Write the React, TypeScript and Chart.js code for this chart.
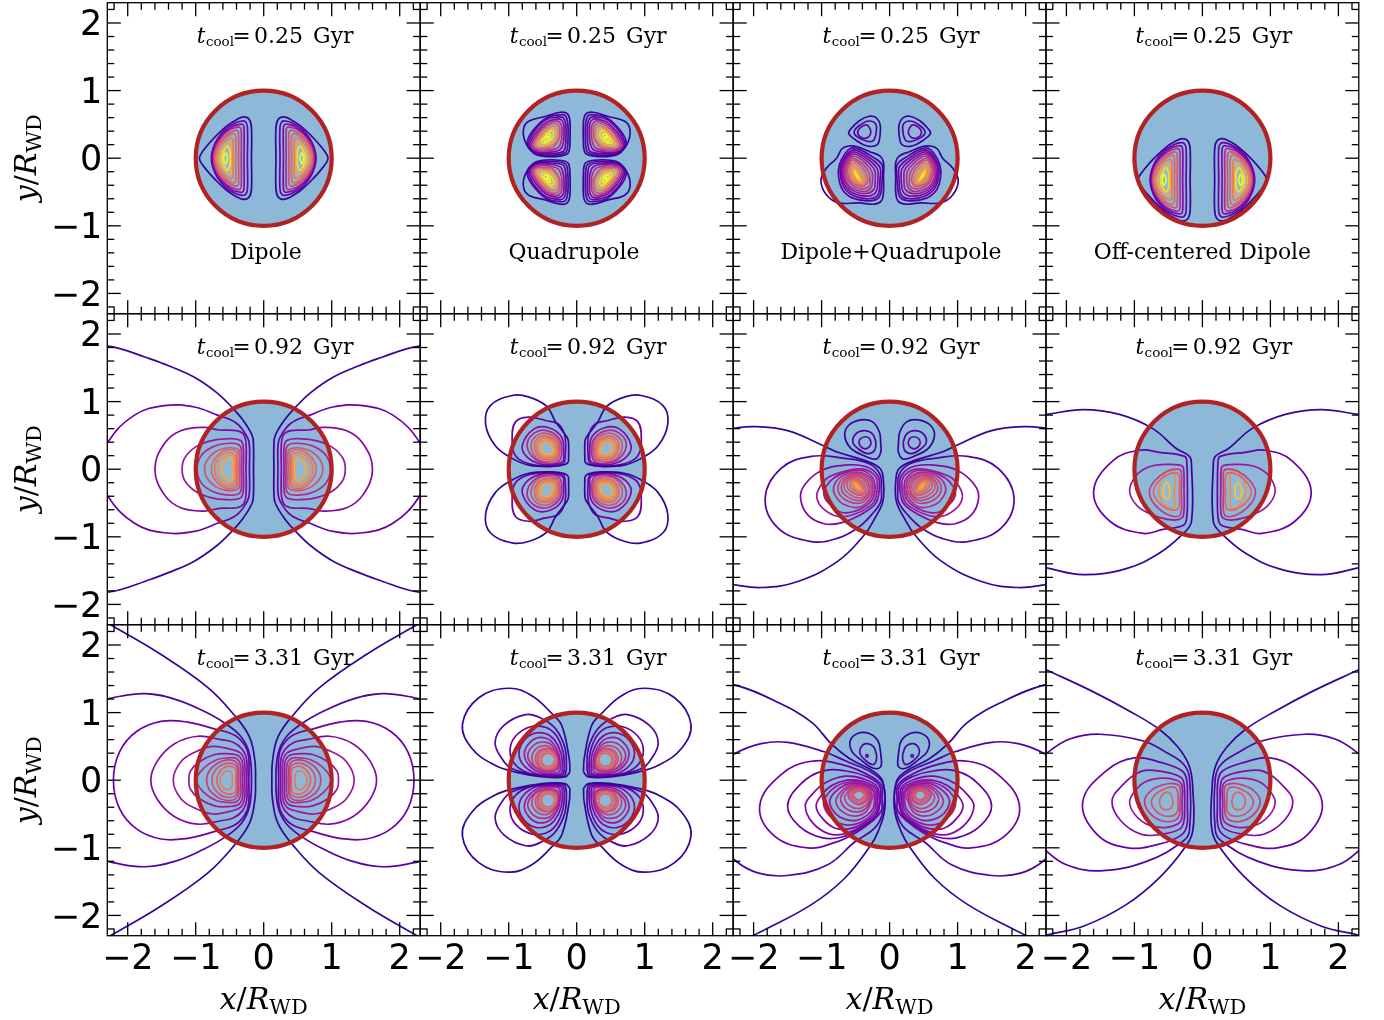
import { useEffect, useRef } from "react";
import { Chart, registerables } from "chart.js";

Chart.register(...registerables);

type P = number[];
const AXIS_MIN = -2.3;
const AXIS_MAX = 2.3;
const MAJOR_TICKS = [-2, -1, 0, 1, 2];
const MINOR_TICKS = [-2.2, -1.8, -1.6, -1.4, -1.2, -0.8, -0.6, -0.4, -0.2, 0.2, 0.4, 0.6, 0.8, 1.2, 1.4, 1.6, 1.8, 2.2];
const TIMES = ["0.25", "0.92", "3.31"];
const NAMES = ["Dipole", "Quadrupole", "Dipole+Quadrupole", "Off-centered Dipole"];
const NAME_X = [0.03, -0.04, 0.02, 0];
const OFFSET_DIPOLE_Y = -0.32;

const PLASMA = ["#37049a", "#5302a3", "#6a00a8", "#8606a6", "#9c179e", "#b12a90", "#c33d80", "#d35171", "#e16462", "#ed7953", "#f58c46", "#fca636", "#fdc328", "#f9e221", "#f0f921"];

/* ---- t = 0.25 Gyr ---- */
const dipoleEarly: P[][] = [
  [[0.18,0],[0.18,0.45],[0.21,0.57],[0.29,0.61],[0.4,0.57],[0.55,0.47],[0.72,0.31],[0.86,0.15],[0.93,0.05],[0.945,0]],
  [[0.24,0],[0.24,0.47],[0.27,0.54],[0.32,0.55],[0.42,0.52],[0.56,0.43],[0.68,0.29],[0.75,0.13],[0.77,0]],
  [[0.29,0],[0.29,0.45],[0.31,0.5],[0.36,0.5],[0.46,0.47],[0.59,0.37],[0.7,0.24],[0.75,0.1],[0.76,0]],
  [[0.33,0],[0.33,0.41],[0.35,0.46],[0.39,0.46],[0.5,0.42],[0.62,0.32],[0.71,0.18],[0.745,0.07],[0.75,0]],
  [[0.37,0],[0.37,0.37],[0.39,0.41],[0.43,0.41],[0.53,0.36],[0.64,0.26],[0.71,0.13],[0.735,0]],
  [[0.41,0],[0.41,0.31],[0.43,0.36],[0.47,0.36],[0.55,0.31],[0.65,0.2],[0.7,0.09],[0.72,0]],
  [[0.45,0],[0.45,0.26],[0.47,0.3],[0.51,0.29],[0.58,0.24],[0.65,0.14],[0.69,0]],
  [[0.47,0],[0.47,0.2],[0.5,0.235],[0.56,0.19],[0.63,0.1],[0.66,0]],
  [[0.49,0],[0.5,0.12],[0.54,0.18],[0.58,0.12],[0.61,0.05],[0.615,0]],
  [[0.53,0],[0.56,0.08],[0.59,0]],
];
const dipoleEarlyLevels = [0, 2, 3, 5, 7, 8, 9, 11, 13, 14];

const quadEarly: P[][] = [
  [[0.1,0.17],[0.1,0.55],[0.14,0.66],[0.24,0.68],[0.45,0.62],[0.7,0.55],[0.78,0.44],[0.76,0.25],[0.64,0.08],[0.5,0.03],[0.25,0.03],[0.13,0.07]],
  [[0.13,0.2],[0.13,0.5],[0.17,0.63],[0.26,0.64],[0.44,0.6],[0.6,0.46],[0.71,0.3],[0.72,0.18],[0.62,0.08],[0.5,0.05],[0.3,0.05],[0.16,0.09]],
  [[0.16,0.22],[0.16,0.5],[0.2,0.6],[0.27,0.61],[0.45,0.57],[0.6,0.43],[0.69,0.28],[0.7,0.17],[0.6,0.08],[0.42,0.07],[0.2,0.1]],
  [[0.19,0.25],[0.19,0.5],[0.23,0.57],[0.3,0.58],[0.45,0.53],[0.59,0.39],[0.67,0.26],[0.68,0.16],[0.58,0.09],[0.4,0.09],[0.24,0.13]],
  [[0.22,0.27],[0.22,0.47],[0.26,0.54],[0.33,0.55],[0.46,0.49],[0.58,0.36],[0.65,0.24],[0.65,0.16],[0.55,0.11],[0.38,0.12],[0.27,0.16]],
  [[0.25,0.3],[0.25,0.45],[0.29,0.51],[0.37,0.51],[0.48,0.44],[0.58,0.32],[0.63,0.21],[0.6,0.14],[0.48,0.14],[0.35,0.16]],
  [[0.27,0.31],[0.28,0.44],[0.33,0.48],[0.43,0.44],[0.53,0.33],[0.6,0.22],[0.58,0.16],[0.45,0.16],[0.33,0.21]],
  [[0.31,0.36],[0.33,0.43],[0.4,0.42],[0.5,0.32],[0.56,0.23],[0.52,0.19],[0.41,0.21],[0.34,0.27]],
  [[0.34,0.38],[0.38,0.41],[0.46,0.34],[0.52,0.26],[0.5,0.22],[0.42,0.24],[0.35,0.31]],
  [[0.38,0.36],[0.42,0.36],[0.48,0.29],[0.47,0.25],[0.41,0.28]],
  [[0.42,0.33],[0.45,0.31],[0.44,0.29],[0.42,0.31]],
];
const quadEarlyLevels = [0, 1, 2, 3, 5, 7, 9, 11, 13, 14, 14];

const mixEarlyTop: P[][] = [
  [[0.14,0.33],[0.14,0.5],[0.2,0.6],[0.3,0.62],[0.45,0.55],[0.58,0.42],[0.6,0.36],[0.5,0.27],[0.33,0.18],[0.18,0.2]],
  [[0.2,0.35],[0.2,0.5],[0.3,0.55],[0.42,0.5],[0.52,0.4],[0.48,0.32],[0.33,0.25],[0.24,0.26]],
  [[0.28,0.42],[0.33,0.49],[0.42,0.46],[0.47,0.38],[0.42,0.31],[0.33,0.3],[0.28,0.36]],
];
const mixTopLevels = [0, 1, 2];
const mixEarlyBottom: P[][] = [
  [[0.09,-0.27],[0.09,-0.06],[0.14,0.03],[0.3,0.1],[0.47,0.17],[0.6,0.18],[0.7,0.14],[0.78,0],[0.93,-0.15],[1.01,-0.33],[0.93,-0.54],[0.75,-0.66],[0.45,-0.66],[0.22,-0.68],[0.12,-0.63],[0.09,-0.5]],
  [[0.11,-0.32],[0.11,-0.1],[0.25,0.02],[0.44,0.13],[0.56,0.15],[0.66,0.06],[0.74,-0.1],[0.75,-0.28],[0.69,-0.47],[0.54,-0.59],[0.29,-0.63],[0.15,-0.57]],
  [[0.14,-0.32],[0.14,-0.14],[0.27,-0.01],[0.44,0.1],[0.55,0.12],[0.64,0.04],[0.72,-0.12],[0.72,-0.28],[0.66,-0.45],[0.52,-0.56],[0.3,-0.6],[0.17,-0.54]],
  [[0.17,-0.32],[0.18,-0.16],[0.3,-0.03],[0.45,0.07],[0.55,0.09],[0.63,0.02],[0.7,-0.12],[0.7,-0.28],[0.64,-0.43],[0.51,-0.53],[0.31,-0.56],[0.2,-0.5]],
  [[0.21,-0.32],[0.22,-0.18],[0.32,-0.06],[0.45,0.04],[0.55,0.06],[0.62,0],[0.68,-0.13],[0.68,-0.28],[0.62,-0.41],[0.5,-0.5],[0.33,-0.52],[0.23,-0.46]],
  [[0.25,-0.33],[0.26,-0.2],[0.35,-0.08],[0.46,0.01],[0.55,0.03],[0.61,-0.03],[0.66,-0.14],[0.66,-0.28],[0.6,-0.4],[0.49,-0.47],[0.35,-0.49],[0.27,-0.43]],
  [[0.29,-0.33],[0.3,-0.22],[0.38,-0.1],[0.47,-0.03],[0.55,0],[0.6,-0.06],[0.64,-0.16],[0.63,-0.28],[0.57,-0.38],[0.47,-0.44],[0.37,-0.45],[0.3,-0.41]],
  [[0.32,-0.34],[0.34,-0.23],[0.41,-0.12],[0.49,-0.05],[0.55,-0.03],[0.59,-0.08],[0.62,-0.17],[0.6,-0.28],[0.55,-0.36],[0.45,-0.41],[0.37,-0.41]],
  [[0.35,-0.35],[0.37,-0.24],[0.44,-0.14],[0.52,-0.07],[0.57,-0.1],[0.59,-0.18],[0.57,-0.28],[0.52,-0.34],[0.44,-0.39],[0.38,-0.39]],
  [[0.38,-0.35],[0.41,-0.25],[0.47,-0.17],[0.53,-0.11],[0.56,-0.15],[0.55,-0.24],[0.5,-0.32],[0.43,-0.37]],
  [[0.41,-0.34],[0.45,-0.25],[0.52,-0.16],[0.54,-0.2],[0.5,-0.29],[0.44,-0.35]],
  [[0.43,-0.34],[0.47,-0.25],[0.52,-0.19],[0.53,-0.22],[0.49,-0.3],[0.45,-0.35]],
  [[0.46,-0.31],[0.49,-0.25],[0.51,-0.23],[0.5,-0.27],[0.47,-0.32]],
];
const mixEarlyLevels = [0, 1, 2, 3, 4, 5, 6, 7, 9, 10, 11, 13, 14];

/* ---- t = 0.92 Gyr ---- */
const dipoleMid: P[][] = [
  [[2.4,1.84],[2.1,1.78],[1.75,1.66],[1.4,1.53],[1.02,1.36],[0.7,1.14],[0.48,0.93],[0.3,0.72],[0.17,0.5],[0.15,0.35],[0.15,0]],
  [[2.4,0],[2.29,0.4],[1.9,0.8],[1.46,0.94],[1.02,0.92],[0.68,0.8],[0.4,0.68],[0.24,0.47],[0.21,0.35],[0.21,0]],
  [[0.26,0],[0.26,0.38],[0.3,0.52],[0.4,0.57],[0.65,0.58],[0.88,0.62],[1.22,0.57],[1.46,0.38],[1.6,0]],
  [[0.3,0],[0.3,0.33],[0.35,0.43],[0.55,0.45],[0.78,0.42],[1,0.33],[1.16,0.17],[1.2,0]],
  [[0.33,0],[0.33,0.3],[0.38,0.37],[0.55,0.38],[0.75,0.33],[0.92,0.2],[0.98,0]],
  [[0.36,0],[0.36,0.27],[0.42,0.31],[0.57,0.31],[0.72,0.25],[0.84,0.12],[0.87,0]],
  [[0.39,0],[0.39,0.24],[0.44,0.28],[0.56,0.28],[0.66,0.22],[0.75,0.1],[0.77,0]],
  [[0.41,0],[0.41,0.2],[0.46,0.24],[0.56,0.24],[0.65,0.18],[0.71,0.08],[0.72,0]],
  [[0.43,0],[0.43,0.16],[0.47,0.21],[0.55,0.2],[0.63,0.14],[0.67,0.05],[0.68,0]],
  [[0.46,0],[0.46,0.12],[0.49,0.16],[0.54,0.15],[0.59,0.09],[0.61,0]],
];
const dipoleMidLevels = [0, 2, 3, 4, 5, 7, 8, 9, 10, 11];

const quadMid: P[][] = [
  [[0.12,0.11],[0.12,0.4],[0.14,0.47],[0.31,0.7],[0.44,0.93],[0.71,1.07],[0.95,1.09],[1.27,0.94],[1.34,0.67],[1.2,0.35],[0.95,0.16],[0.7,0.06],[0.36,0.04],[0.17,0.07]],
  [[0.17,0.15],[0.17,0.47],[0.26,0.66],[0.46,0.72],[0.71,0.77],[0.9,0.7],[0.95,0.45],[0.9,0.2],[0.7,0.08],[0.4,0.05],[0.2,0.08]],
  [[0.19,0.2],[0.22,0.47],[0.4,0.61],[0.62,0.6],[0.8,0.35],[0.72,0.17],[0.5,0.07],[0.28,0.08],[0.2,0.12]],
  [[0.22,0.22],[0.25,0.44],[0.44,0.57],[0.63,0.53],[0.73,0.35],[0.6,0.14],[0.36,0.08],[0.25,0.13]],
  [[0.25,0.25],[0.27,0.42],[0.44,0.53],[0.61,0.48],[0.67,0.32],[0.56,0.14],[0.38,0.11],[0.27,0.16]],
  [[0.27,0.26],[0.3,0.41],[0.45,0.49],[0.58,0.45],[0.62,0.31],[0.54,0.17],[0.38,0.14],[0.29,0.18]],
  [[0.29,0.27],[0.33,0.4],[0.45,0.46],[0.56,0.42],[0.59,0.3],[0.52,0.19],[0.38,0.17],[0.31,0.2]],
  [[0.31,0.27],[0.35,0.38],[0.45,0.43],[0.54,0.39],[0.56,0.3],[0.5,0.21],[0.39,0.19],[0.33,0.22]],
  [[0.34,0.27],[0.38,0.36],[0.46,0.41],[0.52,0.37],[0.53,0.3],[0.47,0.23],[0.4,0.21]],
];
const quadMidLevels = [0, 2, 3, 5, 7, 8, 9, 10, 11];

const mixMidTop: P[][] = [
  [[0.13,0.38],[0.15,0.55],[0.25,0.7],[0.42,0.73],[0.6,0.65],[0.66,0.5],[0.58,0.32],[0.4,0.21],[0.2,0.15],[0.13,0.25]],
  [[0.2,0.4],[0.25,0.52],[0.37,0.57],[0.5,0.52],[0.54,0.4],[0.46,0.3],[0.32,0.23],[0.22,0.28]],
  [[0.27,0.39],[0.3,0.46],[0.36,0.48],[0.43,0.45],[0.45,0.39],[0.42,0.33],[0.36,0.3],[0.3,0.33]],
];
const mixMidOpen: P[][] = [
  [[2.35,0.6],[2,0.63],[1.5,0.57],[0.98,0.35],[0.76,0.25],[0.37,0.13],[0.14,0.01],[0.09,-0.19],[0.1,-0.48],[0.22,-0.73],[0.37,-0.97],[0.76,-1.36],[1.35,-1.66],[1.89,-1.75],[2.35,-1.7]],
];
const mixMidBottom: P[][] = [
  [[0.12,-0.3],[0.14,-0.08],[0.3,0.08],[0.66,0.16],[1.15,0.19],[1.6,0.01],[1.83,-0.43],[1.64,-0.87],[1.15,-1.07],[0.76,-1.02],[0.47,-0.87],[0.27,-0.68],[0.13,-0.48]],
  [[0.15,-0.3],[0.17,-0.1],[0.35,0.04],[0.66,0.06],[1,-0.02],[1.24,-0.22],[1.31,-0.42],[1.2,-0.68],[0.95,-0.81],[0.7,-0.79],[0.42,-0.67],[0.2,-0.5]],
  [[0.18,-0.3],[0.2,-0.12],[0.38,0],[0.62,-0.02],[0.9,-0.12],[1.03,-0.27],[1.07,-0.42],[0.98,-0.58],[0.76,-0.7],[0.5,-0.66],[0.24,-0.5]],
  [[0.21,-0.3],[0.24,-0.14],[0.4,-0.02],[0.62,-0.04],[0.82,-0.13],[0.93,-0.25],[0.97,-0.36],[0.9,-0.5],[0.7,-0.64],[0.45,-0.6],[0.26,-0.46]],
  [[0.24,-0.3],[0.27,-0.15],[0.42,-0.05],[0.6,-0.06],[0.75,-0.14],[0.82,-0.25],[0.81,-0.37],[0.68,-0.52],[0.44,-0.56],[0.28,-0.43]],
  [[0.26,-0.3],[0.3,-0.16],[0.44,-0.07],[0.58,-0.08],[0.71,-0.16],[0.76,-0.26],[0.73,-0.38],[0.6,-0.48],[0.42,-0.5],[0.3,-0.4]],
  [[0.29,-0.29],[0.33,-0.17],[0.46,-0.09],[0.57,-0.1],[0.67,-0.17],[0.71,-0.26],[0.68,-0.36],[0.56,-0.44],[0.42,-0.46],[0.32,-0.38]],
  [[0.31,-0.3],[0.36,-0.18],[0.47,-0.11],[0.57,-0.12],[0.64,-0.18],[0.67,-0.26],[0.63,-0.34],[0.52,-0.41],[0.41,-0.42],[0.33,-0.37]],
  [[0.34,-0.31],[0.39,-0.2],[0.49,-0.13],[0.57,-0.14],[0.62,-0.19],[0.62,-0.27],[0.57,-0.33],[0.46,-0.38],[0.37,-0.37]],
  [[0.37,-0.31],[0.42,-0.21],[0.5,-0.15],[0.56,-0.16],[0.59,-0.22],[0.56,-0.29],[0.47,-0.34],[0.39,-0.35]],
  [[0.39,-0.3],[0.44,-0.22],[0.51,-0.17],[0.55,-0.19],[0.55,-0.24],[0.49,-0.31],[0.42,-0.33]],
  [[0.41,-0.29],[0.46,-0.22],[0.52,-0.19],[0.53,-0.23],[0.48,-0.3],[0.43,-0.31]],
  [[0.45,-0.27],[0.48,-0.22],[0.5,-0.23],[0.48,-0.26],[0.46,-0.28]],
];
const mixMidLevels = [1, 3, 4, 4, 5, 6, 6, 7, 7, 8, 9, 10, 11];

const offsetMidOpen: P[][] = [
  [[2.35,0.8],[2.29,0.81],[1.75,0.88],[1.22,0.81],[0.73,0.6],[0.39,0.31],[0.19,0.19],[0.16,0.05],[0.16,-0.77],[0.28,-0.95],[0.63,-1.24],[1.12,-1.47],[1.75,-1.56],[2.29,-1.46],[2.35,-1.44]],
];
const offsetMid: P[][] = [
  [[0.22,-0.3],[0.23,0.12],[0.26,0.19],[0.63,0.25],[0.92,0.28],[1.31,0.13],[1.6,-0.33],[1.36,-0.77],[0.87,-0.95],[0.58,-0.89],[0.28,-0.83],[0.23,-0.71]],
  [[0.27,-0.32],[0.28,0.02],[0.33,0.06],[0.55,0.07],[0.8,0.03],[0.98,-0.1],[1.07,-0.33],[0.95,-0.55],[0.72,-0.68],[0.45,-0.75],[0.3,-0.72],[0.27,-0.6]],
  [[0.31,-0.33],[0.31,-0.04],[0.36,0],[0.52,-0.03],[0.7,-0.17],[0.78,-0.33],[0.72,-0.5],[0.55,-0.65],[0.36,-0.7],[0.31,-0.62]],
  [[0.34,-0.33],[0.34,-0.1],[0.4,-0.05],[0.55,-0.1],[0.66,-0.2],[0.72,-0.33],[0.66,-0.47],[0.52,-0.58],[0.38,-0.6],[0.34,-0.52]],
  [[0.41,-0.33],[0.41,-0.07],[0.46,-0.02],[0.54,-0.05],[0.61,-0.17],[0.64,-0.33],[0.6,-0.47],[0.5,-0.57],[0.42,-0.57]],
  [[0.48,-0.33],[0.49,-0.24],[0.53,-0.2],[0.57,-0.27],[0.58,-0.34],[0.55,-0.42],[0.5,-0.44]],
];
const offsetMidLevels = [2, 4, 6, 8, 10, 12];

/* ---- t = 3.31 Gyr ---- */
const dipoleLate: P[][] = [
  [[2.4,2.38],[2.22,2.28],[1.51,1.86],[0.82,1.37],[0.43,0.96],[0.21,0.64],[0.13,0.29],[0.12,0]],
  [[2.42,1.16],[2.22,1.22],[1.75,1.28],[1.31,1.2],[0.9,1.03],[0.58,0.85],[0.33,0.64],[0.21,0.39],[0.18,0]],
  [[0.22,0],[0.22,0.33],[0.27,0.5],[0.42,0.66],[0.73,0.76],[1.12,0.86],[1.51,0.87],[1.87,0.72],[2.12,0.42],[2.21,0]],
  [[0.25,0],[0.25,0.3],[0.31,0.45],[0.45,0.56],[0.63,0.6],[0.97,0.65],[1.31,0.54],[1.56,0.29],[1.66,0]],
  [[0.28,0],[0.28,0.27],[0.34,0.4],[0.5,0.46],[0.75,0.5],[1,0.42],[1.22,0.27],[1.33,0]],
  [[0.31,0],[0.31,0.25],[0.37,0.36],[0.52,0.39],[0.72,0.38],[0.95,0.27],[1.08,0.13],[1.1,0]],
  [[0.34,0],[0.34,0.22],[0.4,0.32],[0.52,0.33],[0.7,0.3],[0.88,0.18],[0.99,0]],
  [[0.37,0],[0.37,0.2],[0.42,0.28],[0.54,0.3],[0.68,0.25],[0.8,0.14],[0.84,0]],
  [[0.39,0],[0.39,0.18],[0.44,0.24],[0.55,0.25],[0.66,0.2],[0.74,0.1],[0.76,0]],
  [[0.41,0],[0.41,0.15],[0.46,0.2],[0.55,0.2],[0.63,0.15],[0.68,0.06],[0.69,0]],
  [[0.46,0],[0.47,0.1],[0.52,0.14],[0.58,0.12],[0.63,0.06],[0.64,0]],
];
const dipoleLateLevels = [0, 1, 2, 3, 4, 4, 5, 6, 7, 8, 9];

const quadLate: P[][] = [
  [[0.1,0.12],[0.11,0.32],[0.22,0.81],[0.36,0.98],[0.66,1.25],[1,1.36],[1.44,1.22],[1.68,0.83],[1.54,0.47],[1.2,0.22],[0.9,0.12],[0.5,0.05],[0.17,0.05]],
  [[0.15,0.17],[0.17,0.47],[0.31,0.76],[0.51,0.91],[0.75,0.97],[1.07,0.81],[1.2,0.56],[1.1,0.32],[0.95,0.17],[0.5,0.06],[0.19,0.06]],
  [[0.18,0.16],[0.2,0.42],[0.3,0.66],[0.45,0.78],[0.68,0.79],[0.9,0.65],[0.98,0.45],[0.92,0.25],[0.72,0.11],[0.4,0.07],[0.21,0.08]],
  [[0.21,0.16],[0.23,0.4],[0.33,0.6],[0.46,0.69],[0.63,0.69],[0.78,0.58],[0.85,0.4],[0.78,0.22],[0.6,0.1],[0.35,0.08],[0.23,0.1]],
  [[0.24,0.17],[0.26,0.38],[0.35,0.55],[0.45,0.62],[0.6,0.62],[0.72,0.52],[0.77,0.38],[0.7,0.22],[0.55,0.12],[0.35,0.1],[0.26,0.12]],
  [[0.26,0.2],[0.28,0.37],[0.36,0.51],[0.44,0.56],[0.58,0.55],[0.68,0.47],[0.72,0.35],[0.65,0.22],[0.52,0.14],[0.35,0.13],[0.28,0.16]],
  [[0.26,0.26],[0.3,0.39],[0.37,0.47],[0.45,0.51],[0.56,0.49],[0.64,0.41],[0.66,0.31],[0.61,0.2],[0.5,0.15],[0.36,0.14],[0.29,0.18]],
  [[0.26,0.3],[0.31,0.39],[0.38,0.45],[0.44,0.47],[0.53,0.45],[0.59,0.39],[0.61,0.3],[0.56,0.2],[0.46,0.15],[0.36,0.16],[0.29,0.22]],
  [[0.26,0.3],[0.3,0.41],[0.42,0.46],[0.54,0.41],[0.58,0.3],[0.53,0.19],[0.42,0.14],[0.31,0.19]],
  [[0.29,0.3],[0.33,0.39],[0.42,0.43],[0.51,0.39],[0.55,0.3],[0.51,0.21],[0.42,0.17],[0.33,0.21]],
  [[0.32,0.3],[0.35,0.37],[0.42,0.4],[0.49,0.37],[0.52,0.3],[0.49,0.23],[0.42,0.2],[0.35,0.23]],
];
const quadLateLevels = [0, 1, 2, 3, 4, 5, 6, 7, 7, 8, 8];

const mixLateTop: P[][] = [
  [[0.13,0.4],[0.17,0.58],[0.3,0.69],[0.47,0.69],[0.58,0.58],[0.55,0.42],[0.42,0.3],[0.25,0.18],[0.13,0.2]],
  [[0.19,0.37],[0.24,0.5],[0.35,0.54],[0.43,0.47],[0.43,0.38],[0.34,0.28],[0.24,0.23],[0.2,0.28]],
  [[0.31,0.36],[0.33,0.38],[0.35,0.36],[0.33,0.34]],
];
const mixLateOpen: P[][] = [
  [[2.4,1.35],[2.28,1.41],[1.64,1.15],[1.15,0.86],[0.86,0.54],[0.59,0.32],[0.22,0.12],[0.1,-0.02],[0.07,-0.42],[0.17,-0.76],[0.29,-0.98],[0.66,-1.45],[1.15,-1.84],[1.91,-2.25],[2.1,-2.35]],
  [[2.5,0.2],[2.28,0.39],[1.89,0.54],[1.5,0.56],[0.96,0.42],[0.66,0.29],[0.24,0.1],[0.09,-0.07],[0.1,-0.47],[0.22,-0.71],[0.51,-0.91],[0.91,-1.25],[1.5,-1.41],[1.94,-1.37],[2.28,-1.18],[2.5,-0.9]],
];
const mixLateBottom: P[][] = [
  [[0.11,-0.3],[0.12,-0.08],[0.28,0.06],[0.66,0.22],[1.15,0.28],[1.6,0.08],[1.91,-0.38],[1.7,-0.82],[1.2,-1],[0.8,-0.92],[0.5,-0.78],[0.25,-0.6],[0.12,-0.45]],
  [[0.13,-0.3],[0.15,-0.08],[0.33,0.05],[0.66,0.14],[1,0.13],[1.3,-0.05],[1.5,-0.38],[1.33,-0.68],[1,-0.85],[0.7,-0.84],[0.42,-0.7],[0.2,-0.52]],
  [[0.15,-0.3],[0.18,-0.1],[0.36,0.01],[0.65,0.06],[0.95,-0.04],[1.15,-0.22],[1.24,-0.38],[1.14,-0.62],[0.9,-0.79],[0.65,-0.79],[0.38,-0.66],[0.18,-0.5]],
  [[0.18,-0.3],[0.2,-0.12],[0.38,-0.02],[0.62,0],[0.85,-0.08],[1,-0.22],[1.08,-0.38],[1,-0.55],[0.8,-0.71],[0.55,-0.71],[0.33,-0.6],[0.2,-0.47]],
  [[0.2,-0.3],[0.23,-0.13],[0.4,-0.04],[0.62,-0.03],[0.8,-0.1],[0.93,-0.23],[0.97,-0.36],[0.88,-0.53],[0.7,-0.65],[0.5,-0.65],[0.32,-0.56],[0.22,-0.44]],
  [[0.22,-0.29],[0.25,-0.14],[0.4,-0.06],[0.6,-0.05],[0.75,-0.13],[0.85,-0.23],[0.88,-0.34],[0.8,-0.49],[0.65,-0.58],[0.47,-0.59],[0.32,-0.51],[0.24,-0.41]],
  [[0.25,-0.26],[0.3,-0.1],[0.45,-0.06],[0.6,-0.08],[0.74,-0.2],[0.79,-0.32],[0.7,-0.46],[0.52,-0.53],[0.34,-0.46]],
  [[0.27,-0.25],[0.32,-0.12],[0.45,-0.08],[0.58,-0.1],[0.7,-0.21],[0.72,-0.3],[0.64,-0.42],[0.48,-0.47],[0.34,-0.41]],
  [[0.29,-0.24],[0.34,-0.13],[0.45,-0.09],[0.56,-0.12],[0.65,-0.22],[0.66,-0.28],[0.6,-0.37],[0.47,-0.42],[0.35,-0.37]],
  [[0.31,-0.23],[0.35,-0.15],[0.45,-0.11],[0.55,-0.14],[0.61,-0.22],[0.56,-0.31],[0.46,-0.36],[0.36,-0.32]],
  [[0.33,-0.23],[0.37,-0.16],[0.45,-0.13],[0.53,-0.16],[0.58,-0.22],[0.53,-0.29],[0.45,-0.33],[0.37,-0.3]],
  [[0.35,-0.22],[0.39,-0.17],[0.45,-0.15],[0.51,-0.17],[0.55,-0.22],[0.51,-0.27],[0.45,-0.3],[0.39,-0.27]],
  [[0.37,-0.22],[0.4,-0.18],[0.45,-0.16],[0.5,-0.18],[0.53,-0.22],[0.5,-0.27],[0.45,-0.29],[0.4,-0.27]],
];
const mixLateLevels = [2, 2, 3, 3, 4, 4, 5, 5, 6, 6, 7, 7, 8];

const offsetLateOpen: P[][] = [
  [[2.4,1.68],[2.29,1.63],[1.61,1.31],[1.07,1.02],[0.63,0.75],[0.36,0.49],[0.19,0.2],[0.14,-0.15],[0.14,-0.74],[0.26,-1],[0.63,-1.44],[1.12,-1.84],[1.75,-2.16],[2.29,-2.29],[2.4,-2.33]],
  [[2.5,0.2],[2.29,0.4],[1.95,0.61],[1.51,0.68],[0.87,0.58],[0.53,0.41],[0.28,0.24],[0.19,0.03],[0.19,-0.74],[0.28,-0.9],[0.82,-1.2],[1.51,-1.34],[2,-1.25],[2.29,-1.05],[2.5,-0.8]],
];
const offsetLate: P[][] = [
  [[0.22,-0.35],[0.23,0],[0.3,0.14],[0.6,0.26],[1,0.33],[1.4,0.15],[1.76,-0.32],[1.55,-0.8],[1.1,-1],[0.65,-0.95],[0.32,-0.82],[0.23,-0.68]],
  [[0.26,-0.35],[0.27,-0.05],[0.33,0.05],[0.6,0.13],[0.9,0.13],[1.2,-0.1],[1.33,-0.32],[1.2,-0.6],[0.9,-0.8],[0.6,-0.8],[0.33,-0.72],[0.27,-0.6]],
  [[0.3,-0.35],[0.3,-0.08],[0.38,0],[0.6,0.03],[0.85,-0.03],[1,-0.17],[1.07,-0.32],[1,-0.5],[0.8,-0.66],[0.55,-0.7],[0.35,-0.64],[0.3,-0.55]],
  [[0.33,-0.35],[0.33,-0.1],[0.42,-0.05],[0.58,-0.07],[0.75,-0.15],[0.85,-0.3],[0.78,-0.48],[0.6,-0.6],[0.42,-0.6],[0.34,-0.52]],
  [[0.36,-0.35],[0.37,-0.15],[0.45,-0.1],[0.6,-0.15],[0.7,-0.22],[0.75,-0.33],[0.68,-0.46],[0.55,-0.53],[0.42,-0.52],[0.36,-0.45]],
  [[0.43,-0.32],[0.47,-0.2],[0.54,-0.18],[0.61,-0.24],[0.63,-0.32],[0.6,-0.41],[0.53,-0.44],[0.46,-0.41]],
];
const offsetLateLevels = [2, 3, 4, 6, 7, 8];

/* ---- how each panel's contours are completed from the quadrant that was read ---- */
type Kind = "halfY" | "loop" | "open" | "loopY";
type Group = { lines: P[][]; levels: number[]; kind: Kind; dy?: number };

const PANELS: Group[][] = [
  [{ lines: dipoleEarly, levels: dipoleEarlyLevels, kind: "halfY" }],
  [{ lines: quadEarly, levels: quadEarlyLevels, kind: "loopY" }],
  [{ lines: mixEarlyTop, levels: mixTopLevels, kind: "loop" }, { lines: mixEarlyBottom, levels: mixEarlyLevels, kind: "loop" }],
  [{ lines: dipoleEarly, levels: dipoleEarlyLevels, kind: "halfY", dy: OFFSET_DIPOLE_Y }],
  [{ lines: dipoleMid, levels: dipoleMidLevels, kind: "halfY" }],
  [{ lines: quadMid, levels: quadMidLevels, kind: "loopY" }],
  [{ lines: mixMidTop, levels: mixTopLevels, kind: "loop" }, { lines: mixMidOpen, levels: [0], kind: "open" }, { lines: mixMidBottom, levels: mixMidLevels, kind: "loop" }],
  [{ lines: offsetMidOpen, levels: [0], kind: "open" }, { lines: offsetMid, levels: offsetMidLevels, kind: "loop" }],
  [{ lines: dipoleLate, levels: dipoleLateLevels, kind: "halfY" }],
  [{ lines: quadLate, levels: quadLateLevels, kind: "loopY" }],
  [{ lines: mixLateTop, levels: mixTopLevels, kind: "loop" }, { lines: mixLateOpen, levels: [0, 1], kind: "open" }, { lines: mixLateBottom, levels: mixLateLevels, kind: "loop" }],
  [{ lines: offsetLateOpen, levels: [0, 1], kind: "open" }, { lines: offsetLate, levels: offsetLateLevels, kind: "loop" }],
];

const COL_LEFT = [107.3, 420.3, 733.2, 1046];
const ROW_TOP = [2.7, 313.7, 624.7];
const PANEL_W = 312.8;
const PANEL_H = 311;
const Y_AXIS_W = 80;
const X_AXIS_H = 60;
const SERIF = "'DejaVu Serif'";

const mirrorHalf = (h: P[]) => [...h, ...h.slice(0, -1).reverse().map(([x, y]) => [x, -y])];
const closeLoop = (p: P[]) => [...p, p[0]];

function buildDatasets(groups: Group[]) {
  const out: any[] = [];
  const add = (pts: P[], color: string) =>
    out.push({
      data: pts.map(([x, y]) => ({ x, y })),
      showLine: true,
      borderColor: color,
      borderWidth: 1.7,
      tension: 0.4,
      pointRadius: 0,
      pointHoverRadius: 0,
      fill: false,
    });
  for (const g of groups) {
    g.lines.forEach((line, i) => {
      const color = PLASMA[g.levels[i]];
      const shift = g.dy ?? 0;
      let pts: P[];
      if (g.kind === "halfY") pts = mirrorHalf(line);
      else if (g.kind === "open") pts = line;
      else pts = closeLoop(line);
      pts = pts.map(([x, y]) => [x, y + shift]);
      const left = pts.map(([x, y]) => [-x, y]);
      add(pts, color);
      add(left, color);
      if (g.kind === "loopY") {
        add(pts.map(([x, y]) => [x, -y]), color);
        add(left.map(([x, y]) => [x, -y]), color);
      }
    });
  }
  return out;
}

type Run = { t: string; font: string; dy?: number; gap?: number };
function drawRuns(ctx: CanvasRenderingContext2D, x: number, y: number, runs: Run[]) {
  let cx = x;
  for (const r of runs) {
    ctx.font = r.font;
    ctx.fillText(r.t, cx, y + (r.dy ?? 0));
    cx += ctx.measureText(r.t).width + (r.gap ?? 0);
  }
}
function runsWidth(ctx: CanvasRenderingContext2D, runs: Run[]) {
  let w = 0;
  for (const r of runs) {
    ctx.font = r.font;
    w += ctx.measureText(r.t).width + (r.gap ?? 0);
  }
  return w;
}
const axisRuns = (letter: string): Run[] => [
  { t: letter, font: `italic 30px ${SERIF}` },
  { t: "/", font: `30px ${SERIF}` },
  { t: "R", font: `italic 30px ${SERIF}` },
  { t: "WD", font: `21px ${SERIF}`, dy: 4.5 },
];

const panelPlugin = {
  id: "panelDecor",
  beforeDatasetsDraw(chart: any) {
    const { ctx, scales } = chart;
    const { x, y } = scales;
    ctx.save();
    ctx.beginPath();
    ctx.ellipse(x.getPixelForValue(0), y.getPixelForValue(0), x.getPixelForValue(1) - x.getPixelForValue(0), y.getPixelForValue(0) - y.getPixelForValue(1), 0, 0, Math.PI * 2);
    ctx.fillStyle = "#8db8d8";
    ctx.fill();
    ctx.restore();
  },
  afterDraw(chart: any, _a: any, opts: any) {
    const { ctx, scales, chartArea: a } = chart;
    const { x, y } = scales;
    ctx.save();
    ctx.beginPath();
    ctx.ellipse(x.getPixelForValue(0), y.getPixelForValue(0), x.getPixelForValue(1) - x.getPixelForValue(0), y.getPixelForValue(0) - y.getPixelForValue(1), 0, 0, Math.PI * 2);
    ctx.strokeStyle = "#b22222";
    ctx.lineWidth = 4.2;
    ctx.stroke();

    ctx.strokeStyle = "#000";
    ctx.lineWidth = 1.3;
    ctx.strokeRect(a.left, a.top, a.right - a.left, a.bottom - a.top);
    const seg = (x0: number, y0: number, x1: number, y1: number) => {
      ctx.beginPath();
      ctx.moveTo(x0, y0);
      ctx.lineTo(x1, y1);
      ctx.stroke();
    };
    const ticks = (vals: number[], len: number) => {
      for (const v of vals) {
        const px = x.getPixelForValue(v);
        const py = y.getPixelForValue(v);
        seg(px, a.top, px, a.top + len);
        seg(px, a.bottom, px, a.bottom - len);
        seg(a.left, py, a.left + len, py);
        seg(a.right, py, a.right - len, py);
      }
    };
    ticks(MAJOR_TICKS, 13.5);
    ticks(MINOR_TICKS, 7);

    ctx.fillStyle = "#000";
    ctx.textBaseline = "alphabetic";
    ctx.textAlign = "left";
    drawRuns(ctx, x.getPixelForValue(-0.985), y.getPixelForValue(1.71), [
      { t: "t", font: `italic 21.6px ${SERIF}`, gap: 0.5 },
      { t: "cool", font: `13.5px ${SERIF}`, dy: 3.5, gap: -1.5 },
      { t: "=", font: `21.6px ${SERIF}`, gap: 3.5 },
      { t: opts.time, font: `22px ${SERIF}`, gap: 3 },
      { t: " Gyr", font: `22px ${SERIF}` },
    ]);
    if (opts.name) {
      ctx.font = `21.9px ${SERIF}`;
      ctx.textAlign = "center";
      ctx.fillText(opts.name, x.getPixelForValue(opts.nameX), y.getPixelForValue(-1.49));
      ctx.textAlign = "left";
    }
    if (opts.xLabel) {
      const runs = axisRuns("x");
      drawRuns(ctx, x.getPixelForValue(0) - runsWidth(ctx, runs) / 2, 1009, runs);
    }
    if (opts.yLabel) {
      const runs = axisRuns("y");
      ctx.save();
      ctx.translate(36, y.getPixelForValue(0));
      ctx.rotate(-Math.PI / 2);
      drawRuns(ctx, -runsWidth(ctx, runs) / 2, 0, runs);
      ctx.restore();
    }
    ctx.restore();
  },
};

const axisBase = (show: boolean) => ({
  type: "linear",
  min: AXIS_MIN,
  max: AXIS_MAX,
  display: show,
  grid: { display: false },
  border: { display: false },
  afterBuildTicks: (s: any) => {
    s.ticks = MAJOR_TICKS.map((value) => ({ value }));
  },
});
const tickOpts = (padding: number, labelOffset: number) => ({
  display: true,
  autoSkip: false,
  maxRotation: 0,
  minRotation: 0,
  padding,
  labelOffset,
  color: "#000",
  font: { family: "'DejaVu Sans'", size: 35 },
  callback: (v: number) => String(v).replace("-", "\u2212"),
});

function Panel({ row, col }: { row: number; col: number }) {
  const ref = useRef<HTMLCanvasElement>(null);
  useEffect(() => {
    const left = col === 0, bottom = row === 2;
    const chart = new Chart(ref.current as HTMLCanvasElement, {
      type: "scatter",
      data: { datasets: buildDatasets(PANELS[row * 4 + col]) },
      plugins: [panelPlugin],
      options: {
        animation: false,
        responsive: false,
        devicePixelRatio: 1,
        layout: {
          padding: {
            left: COL_LEFT[col] - (left ? Y_AXIS_W : 0),
            top: ROW_TOP[row],
            right: 1384 - COL_LEFT[col] - PANEL_W,
            bottom: 1020 - ROW_TOP[row] - PANEL_H - (bottom ? X_AXIS_H : 0),
          },
        },
        scales: {
          x: { ...axisBase(bottom), ticks: tickOpts(-5, 0), afterFit: (s: any) => { s.height = bottom ? X_AXIS_H : 0; s.paddingLeft = 0; s.paddingRight = 0; } },
          y: { ...axisBase(left), ticks: tickOpts(-3, 3), afterFit: (s: any) => { s.width = left ? Y_AXIS_W : 0; s.paddingTop = 0; s.paddingBottom = 0; } },
        },
        plugins: {
          legend: { display: false },
          tooltip: { enabled: false },
          panelDecor: {
            time: TIMES[row],
            name: row === 0 ? NAMES[col] : "",
            nameX: NAME_X[col],
            xLabel: bottom,
            yLabel: left,
          },
        },
      } as any,
    });
    return () => chart.destroy();
  }, [row, col]);
  return <canvas ref={ref} width={1384} height={1020} style={{ position: "absolute", left: 0, top: 0, width: 1384, height: 1020, pointerEvents: "none" }} />;
}

export default function App() {
  const cells: JSX.Element[] = [];
  TIMES.forEach((_, row) => NAMES.forEach((_n, col) => cells.push(<Panel key={`${row}-${col}`} row={row} col={col} />)));
  return <div style={{ position: "absolute", left: 0, top: 0, width: 1384, height: 1020, background: "#fff", overflow: "hidden" }}>{cells}</div>;
}
